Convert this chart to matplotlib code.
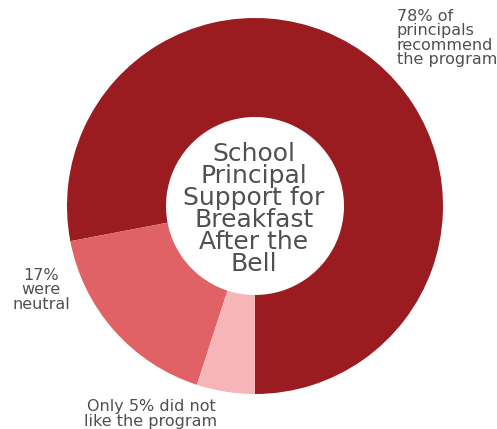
import matplotlib
matplotlib.use("Agg")
import matplotlib.pyplot as plt

# Breakfast After the Bell - principal support
shares = [78, 17, 5]
slice_colors = ['#9a1b20', '#e06264', '#f6b5b7']
slice_labels = ['78% of\nprincipals\nrecommend\nthe program',
                '17%\nwere\nneutral',
                'Only 5% did not\nlike the program']
title = 'School\nPrincipal\nSupport for\nBreakfast\nAfter the\nBell'

W, H = 497, 429
text_color = '#505050'

fig = plt.figure(figsize=(W / 100, H / 100), dpi=100)
ax = fig.add_axes([0, 0, 1, 1])

outer_r = 188
inner_r = 89
ax.pie(shares, colors=slice_colors, startangle=270, counterclock=True,
       center=(255, H - 206), radius=outer_r, frame=True,
       wedgeprops=dict(width=outer_r - inner_r, linewidth=0))
ax.set_xlim(0, W)
ax.set_ylim(0, H)
ax.set_aspect('equal')
ax.axis('off')

ax.text(254, H - 209, title, ha='center', va='center', fontsize=18,
        color=text_color, linespacing=0.9)

ax.text(397, H - 38, slice_labels[0], ha='left', va='center', fontsize=11.5,
        color=text_color, linespacing=0.92)
ax.text(41, H - 290, slice_labels[1], ha='center', va='center', fontsize=11.5,
        color=text_color, linespacing=0.92)
ax.text(151, H - 414, slice_labels[2], ha='center', va='center', fontsize=11.5,
        color=text_color, linespacing=0.92)

fig.savefig('out.png', dpi=100)
